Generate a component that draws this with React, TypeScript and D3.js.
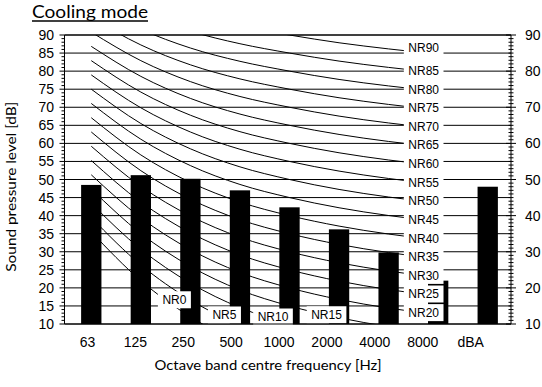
import React from "react";
import * as d3 from "d3";

// ---------- data ----------
const categories = ["63", "125", "250", "500", "1000", "2000", "4000", "8000", "dBA"];
const levels = [48.5, 51.2, 50.2, 47.0, 42.3, 36.2, 29.8, 22.0, 48.0];

const nrBands = ["63", "125", "250", "500", "1000", "2000", "4000", "8000"];
const nr0 = [35.5, 22.0, 12.0, 4.8, 0, -3.5, -6.1, -8.0];
const nr5 = [39.45, 26.35, 16.65, 9.67, 5, 1.58, -0.98, -2.85];
const nr10 = [43.4, 30.7, 21.3, 14.54, 10, 6.65, 4.15, 2.3];
const nr15 = [47.35, 35.05, 25.95, 19.41, 15, 11.73, 9.28, 7.45];
const nr20 = [51.3, 39.4, 30.6, 24.28, 20, 16.8, 14.4, 12.6];
const nr25 = [55.25, 43.75, 35.25, 29.15, 25, 21.88, 19.53, 17.75];
const nr30 = [59.2, 48.1, 39.9, 34.02, 30, 26.95, 24.65, 22.9];
const nr35 = [63.15, 52.45, 44.55, 38.89, 35, 32.03, 29.78, 28.05];
const nr40 = [67.1, 56.8, 49.2, 43.76, 40, 37.1, 34.9, 33.2];
const nr45 = [71.05, 61.15, 53.85, 48.63, 45, 42.18, 40.03, 38.35];
const nr50 = [75.0, 65.5, 58.5, 53.5, 50, 47.25, 45.15, 43.5];
const nr55 = [78.95, 69.85, 63.15, 58.37, 55, 52.33, 50.28, 48.65];
const nr60 = [82.9, 74.2, 67.8, 63.24, 60, 57.4, 55.4, 53.8];
const nr65 = [86.85, 78.55, 72.45, 68.11, 65, 62.48, 60.53, 58.95];
const nr70 = [90.8, 82.9, 77.1, 72.98, 70, 67.55, 65.65, 64.1];
const nr75 = [94.75, 87.25, 81.75, 77.85, 75, 72.63, 70.78, 69.25];
const nr80 = [98.7, 91.6, 86.4, 82.72, 80, 77.7, 75.9, 74.4];
const nr85 = [102.65, 95.95, 91.05, 87.59, 85, 82.78, 81.03, 79.55];
const nr90 = [106.6, 100.3, 95.7, 92.46, 90, 87.85, 86.15, 84.7];

const nrNames = ["NR0", "NR5", "NR10", "NR15", "NR20", "NR25", "NR30", "NR35", "NR40", "NR45", "NR50", "NR55", "NR60", "NR65", "NR70", "NR75", "NR80", "NR85", "NR90"];
const nrCurves = [nr0, nr5, nr10, nr15, nr20, nr25, nr30, nr35, nr40, nr45, nr50, nr55, nr60, nr65, nr70, nr75, nr80, nr85, nr90];
// band at which each curve's label is attached
const nrLabelBand = ["250", "500", "1000", "2000", "8000", "8000", "8000", "8000", "8000", "8000", "8000", "8000", "8000", "8000", "8000", "8000", "8000", "8000", "8000"];

const leftTicks = [10, 15, 20, 25, 30, 35, 40, 45, 50, 55, 60, 65, 70, 75, 80, 85, 90];
const rightTicks = [10, 20, 30, 40, 50, 60, 70, 80, 90];

// ---------- layout ----------
const W = 542, H = 387;
const pL = 64.5, pR = 511, pT = 35, pB = 324;
const labelShift: Record<string, [number, number]> = {
  NR0: [-16, -17], NR5: [-15.5, -9], NR10: [-16.5, -7], NR15: [-12.5, -3], NR90: [-14.5, -6],
};
const tickFont = "'Liberation Sans', Arial, sans-serif";
const titleFont = "Lato, 'Open Sans', sans-serif";

function textW(s: string, size: number) {
  const m: Record<string, number> = { N: 0.722, R: 0.722 };
  let w = 0;
  for (const ch of s) w += m[ch] ?? 0.556;
  return w * size;
}

export default function App() {
  const y = d3.scaleLinear().domain([10, 90]).range([pB, pT]);
  const xBar = d3.scaleBand<string>().domain(categories).range([66.5, 512.5]);
  const xLab = d3.scaleBand<string>().domain(categories).range([63.5, 494.6]);
  const cx = (c: string) => (xBar(c) as number) + xBar.bandwidth() / 2;
  const barW = xBar.bandwidth() * 0.41;
  const line = d3
    .line<number>()
    .x((_, i) => cx(nrBands[i]))
    .y((d) => y(d))
    .curve(d3.curveMonotoneX);
  const minor = d3.range(10, 91, 1);

  return (
    <svg width={W} height={H} style={{ position: "absolute", left: 0, top: 0, background: "#fff" }}>
      <defs>
        <clipPath id="plot">
          <rect x={pL} y={pT} width={pR - pL} height={pB - pT} />
        </clipPath>
      </defs>
      <rect x={0} y={0} width={W} height={H} fill="#fff" />

      {/* gridlines */}
      {leftTicks.map((t) => (
        <line key={"g" + t} x1={pL} x2={pR} y1={y(t)} y2={y(t)} stroke="#000" strokeWidth={1} />
      ))}

      {/* bars */}
      {categories.map((c, i) => (
        <rect key={"b" + c} x={cx(c) - barW / 2} y={y(levels[i])} width={barW} height={y(10) - y(levels[i])} fill="#000" />
      ))}

      {/* NR curves */}
      <g clipPath="url(#plot)">
        {nrCurves.map((vals, k) => (
          <path key={"c" + k} d={line(vals) as string} fill="none" stroke="#000" strokeWidth={1} />
        ))}
      </g>

      {/* NR labels */}
      {nrNames.map((name, k) => {
        const band = nrLabelBand[k];
        const bi = nrBands.indexOf(band);
        const v = nrCurves[k][bi];
        const [dx, dy] = labelShift[name] ?? [-14.5, -2];
        const lx = cx(band) + dx;
        const ly = Math.min(y(v), pB) + dy;
        const tw = textW(name, 12);
        return (
          <g key={"l" + name}>
            <rect x={lx - tw / 2 - 4.5} y={ly - 8.5} width={tw + 9} height={17} fill="#fff" />
            <text x={lx} y={ly} dy="0.36em" textAnchor="middle" fontFamily={tickFont} fontSize={12} fill="#000">
              {name}
            </text>
          </g>
        );
      })}

      {/* axes frame */}
      <line x1={pL} x2={pL} y1={pT} y2={pB} stroke="#000" />
      <line x1={pR} x2={pR} y1={pT} y2={pB} stroke="#000" />
      <line x1={pL} x2={pR} y1={pB} y2={pB} stroke="#000" />
      <line x1={pL} x2={pR} y1={pT} y2={pT} stroke="#000" />

      {/* left ticks */}
      {minor.map((t) => (
        <line key={"lm" + t} x1={pL - (t % 5 === 0 ? 5 : 3)} x2={pL} y1={y(t)} y2={y(t)} stroke="#000" strokeWidth={1} />
      ))}
      {leftTicks.map((t) => (
        <text key={"lt" + t} x={54} y={y(t)} dy="0.36em" textAnchor="end" fontFamily={tickFont} fontSize={14} fill="#000">
          {t}
        </text>
      ))}

      {/* right ticks */}
      {minor.map((t) => {
        const len = t % 10 === 0 ? 5 : 2.5;
        return <line key={"rm" + t} x1={pR - len} x2={pR + len} y1={y(t)} y2={y(t)} stroke="#000" strokeWidth={1} />;
      })}
      {rightTicks.map((t) => (
        <text key={"rt" + t} x={525} y={y(t)} dy="0.36em" textAnchor="start" fontFamily={tickFont} fontSize={14} fill="#000">
          {t}
        </text>
      ))}

      {/* x labels */}
      {categories.map((c) => (
        <text key={"x" + c} x={(xLab(c) as number) + xLab.bandwidth() / 2} y={346.5} textAnchor="middle" fontFamily={tickFont} fontSize={14} fill="#000">
          {c}
        </text>
      ))}

      {/* titles */}
      <text x={32} y={18} fontFamily={titleFont} fontSize={17} fill="#000" textLength={116} lengthAdjust="spacingAndGlyphs">
        Cooling mode
      </text>
      <line x1={32} x2={148} y1={21} y2={21} stroke="#000" strokeWidth={1.3} />
      <text
        transform={`translate(16,186.7) rotate(-90)`}
        textAnchor="middle"
        fontFamily={titleFont}
        fontSize={14}
        fill="#000"
        textLength={170}
        lengthAdjust="spacingAndGlyphs"
      >
        Sound pressure level [dB]
      </text>
      <text x={268} y={370} textAnchor="middle" fontFamily={titleFont} fontSize={14} fill="#000" textLength={227} lengthAdjust="spacingAndGlyphs">
        Octave band centre frequency [Hz]
      </text>
    </svg>
  );
}
